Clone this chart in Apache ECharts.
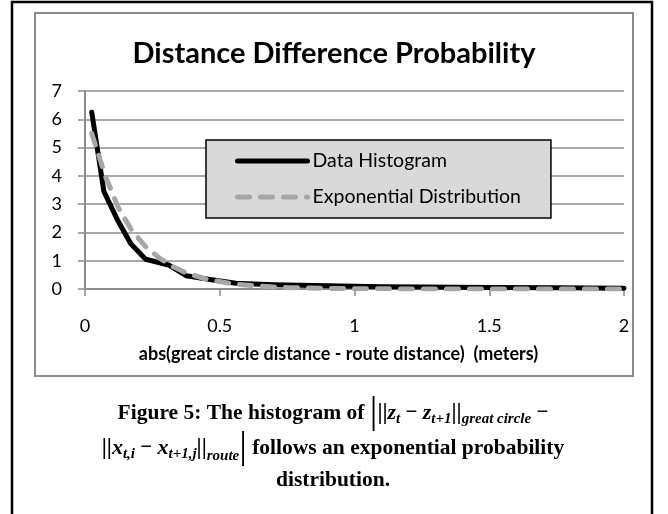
<!DOCTYPE html>
<html>
<head>
<meta charset="utf-8">
<script src="https://cdn.jsdelivr.net/npm/echarts@6/dist/echarts.min.js"></script>
<style>
  html, body { margin: 0; padding: 0; background: #fff; }
  #chart { width: 668px; height: 514px; }
</style>
</head>
<body>
<div id="chart"></div>
<script>
// values
const histX = [0.025, 0.07, 0.12, 0.17, 0.225, 0.31, 0.375, 0.47, 0.56, 0.7, 0.85, 1.0, 1.1, 1.25, 1.5, 1.75, 2.0]
const histY = [6.25, 3.45, 2.45, 1.6, 1.05, 0.85, 0.47, 0.33, 0.2, 0.15, 0.12, 0.1, 0.08, 0.07, 0.05, 0.04, 0.03]
const expX = [0.025, 0.075, 0.125, 0.175, 0.225, 0.275, 0.325, 0.375, 0.45, 0.55, 0.65, 0.75, 0.9, 1.0, 1.25, 1.5, 1.75, 2.0]
const expY = [5.5, 4.0, 2.85, 2.05, 1.5, 1.1, 0.8, 0.57, 0.35, 0.18, 0.1, 0.05, 0.02, 0.01, 0, 0, 0, 0]
const xTicks = { min: 0, max: 2, interval: 0.5 }
const yTicks = { min: 0, max: 7, interval: 1 }

const sans = 'Lato'
const serif = 'Liberation Serif'

const myChart = echarts.init(document.getElementById('chart'))

// caption styles (bold text + bold italic math with subscripts)
const capRich = {
  b: { fontFamily: serif, fontWeight: 'bold', fontSize: 21.5, lineHeight: 28, color: '#000' },
  m: { fontFamily: serif, fontWeight: 'bold', fontSize: 21, lineHeight: 28, color: '#000' },
  dbl: { fontFamily: serif, fontWeight: 'bold', fontSize: 23, lineHeight: 28, color: '#000' },
  mi: { fontFamily: serif, fontWeight: 'bold', fontStyle: 'italic', fontSize: 22, lineHeight: 28, color: '#000' },
  big: { fontFamily: serif, fontSize: 38, lineHeight: 28, color: '#000' },
  sub: { fontFamily: serif, fontWeight: 'bold', fontStyle: 'italic', fontSize: 15, lineHeight: 14, padding: [12, 0, 0, 0], color: '#000' },
  sub2: { fontFamily: serif, fontWeight: 'bold', fontStyle: 'italic', fontSize: 15, lineHeight: 14, padding: [16, 0, 0, 0], color: '#000' }
}

const option = {
  backgroundColor: '#fff',
  animation: false,
  title: {
    text: 'Distance Difference Probability',
    left: 'center',
    top: 34,
    textStyle: { fontFamily: sans, fontWeight: 'bold', fontSize: 29, color: '#000' }
  },
  legend: {
    orient: 'vertical',
    left: 206,
    top: 140,
    padding: [11, 30, 11, 29],
    itemGap: 16,
    itemWidth: 70,
    itemHeight: 20,
    backgroundColor: '#d9d9d9',
    borderColor: '#000',
    borderWidth: 1.5,
    borderRadius: 0,
    lineStyle: { width: 5, cap: 'round' },
    itemStyle: { color: 'rgba(0,0,0,0)', borderWidth: 0 },
    textStyle: { fontFamily: sans, fontSize: 19.5, color: '#000' },
    data: ['Data Histogram', 'Exponential Distribution']
  },
  grid: {
    left: 85,
    right: 44,
    top: 91,
    bottom: 225
  },
  xAxis: {
    type: 'value',
    min: xTicks.min,
    max: xTicks.max,
    interval: xTicks.interval,
    name: 'abs(great circle distance - route distance)  (meters)',
    nameLocation: 'middle',
    nameGap: 56,
    nameTextStyle: { fontFamily: sans, fontWeight: 'bold', fontSize: 18, color: '#000', padding: [0, 32, 0, 0] },
    axisLine: { lineStyle: { color: '#8c8c8c', width: 2 } },
    axisTick: { length: 7, lineStyle: { color: '#8c8c8c', width: 1.5 } },
    axisLabel: { margin: 28, fontFamily: sans, fontSize: 18, color: '#000' },
    splitLine: { show: false }
  },
  yAxis: {
    type: 'value',
    min: yTicks.min,
    max: yTicks.max,
    interval: yTicks.interval,
    axisLine: { show: true, lineStyle: { color: '#8c8c8c', width: 2 } },
    axisTick: { show: true, length: 7, lineStyle: { color: '#8c8c8c', width: 1.5 } },
    axisLabel: { margin: 23, fontFamily: sans, fontSize: 18, color: '#000' },
    splitLine: { show: true, lineStyle: { color: '#8c8c8c', width: 1.5 } }
  },
  series: [
    {
      name: 'Data Histogram',
      type: 'line',
      symbol: 'none',
      color: '#000',
      lineStyle: { color: '#000', width: 5, cap: 'round', join: 'round' },
      data: histX.map((x, i) => [x, histY[i]])
    },
    {
      name: 'Exponential Distribution',
      type: 'line',
      symbol: 'none',
      color: '#a6a6a6',
      lineStyle: { color: '#a6a6a6', width: 5, type: [12, 11], cap: 'round', join: 'round' },
      data: expX.map((x, i) => [x, expY[i]])
    }
  ],
  graphic: [
    {
      type: 'rect',
      shape: { x: 12, y: 2, width: 640, height: 530 },
      style: { fill: 'none', stroke: '#000', lineWidth: 2.5 }
    },
    {
      type: 'rect',
      shape: { x: 35, y: 13, width: 598, height: 363 },
      style: { fill: 'none', stroke: '#8c8c8c', lineWidth: 2 }
    },
    {
      type: 'text',
      x: 333,
      y: 413,
      style: {
        text: '{b|Figure 5: The histogram of }{big||}{dbl|||}{mi|z}{sub|t}{m| \u2212 }{mi|z}{sub|t+1}{dbl|||}{sub|great circle}{m| \u2212}',
        rich: capRich,
        align: 'center',
        verticalAlign: 'middle'
      }
    },
    {
      type: 'text',
      x: 333,
      y: 448,
      style: {
        text: '{dbl|||}{mi|x}{sub|t,i}{m| \u2212 }{mi|x}{sub|t+1,j}{dbl|||}{sub2|route}{big||}{b| follows an exponential probability}',
        rich: capRich,
        align: 'center',
        verticalAlign: 'middle'
      }
    },
    {
      type: 'text',
      x: 333,
      y: 480,
      style: {
        text: '{b|distribution.}',
        rich: capRich,
        align: 'center',
        verticalAlign: 'middle'
      }
    }
  ]
}

myChart.setOption(option)
</script>
</body>
</html>
